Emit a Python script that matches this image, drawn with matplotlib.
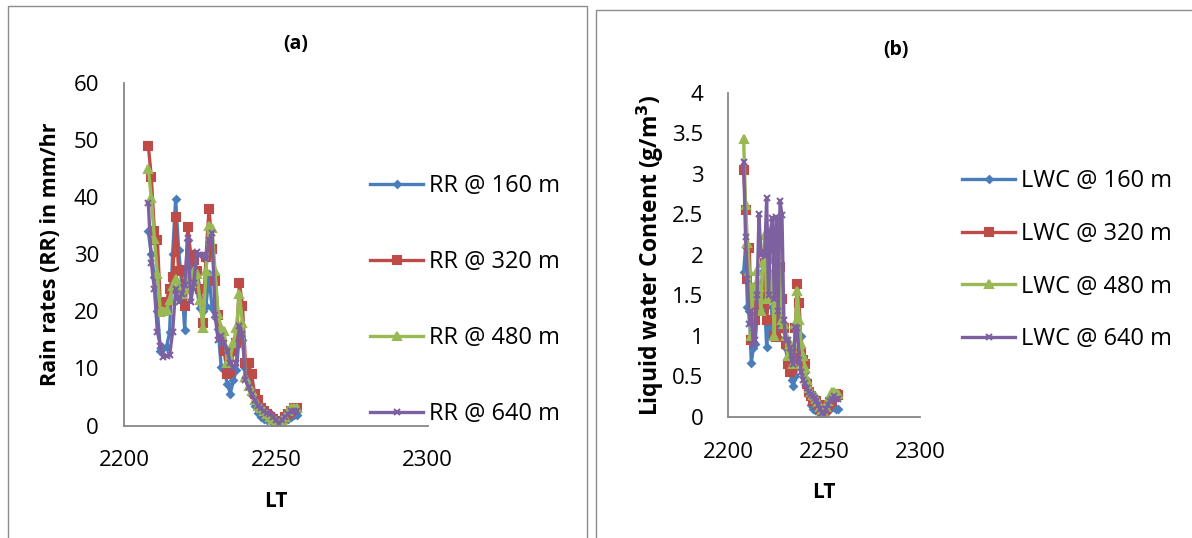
import matplotlib
matplotlib.use("Agg")
import matplotlib.pyplot as plt
from matplotlib.patches import Rectangle

plt.rcParams['font.family'] = ['Open Sans', 'DejaVu Sans']

# Local time (HHMM) of each sample
lt = list(range(2208, 2258))

# Rain rate (mm/hr) at four heights
rr_160 = [34, 30, 26, 20, 13, 13.5, 13.8, 16.3, 30, 39.7, 30.7, 25, 16.7, 32.5, 28, 27.7,
          24, 20.5, 20, 21, 26.5, 20.5, 19, 16.9, 10.3, 9.7, 7.3, 5.6, 7.9, 9.7, 16, 15,
          10, 9, 6, 3.5, 2.2, 1.5, 1.2, 1, 1, 0.8, 0.5, 0.2, 0.6, 1, 1.2, 1.5, 1.8, 1.8]
rr_320 = [49, 43.5, 34, 32.5, 20.5, 21.5, 21.7, 24, 26, 36.5, 27, 27.2, 21, 34.7, 29.8, 29,
          27, 24, 18, 29.5, 38, 31, 25.4, 19.3, 15.5, 13, 9, 9.3, 13, 14.5, 25, 21,
          10.9, 10.9, 9, 5.5, 4.5, 3, 2.5, 2, 1.5, 1.2, 0.6, 0.2, 0.8, 1.5, 2, 2.6, 3, 3]
rr_480 = [45, 39.8, 32.7, 26.5, 19.9, 20, 20.2, 22, 24.5, 25.6, 24, 23, 24, 26.5, 25, 27,
          26.5, 22, 17, 27, 35, 34.6, 27, 19.5, 17, 16.6, 11, 12, 14.5, 17, 23, 18,
          8.5, 7, 6, 4.5, 3.5, 3, 2.5, 2, 1.5, 1.2, 0.8, 0.4, 1, 1.5, 2.5, 3, 3, 3]
rr_640 = [39, 28.5, 24, 16.4, 14, 12, 12.2, 12.3, 16.3, 24, 21.7, 23, 24.7, 32.8, 21.7, 25,
          30.4, 29.8, 29.8, 29.2, 32.5, 33.7, 19.3, 15, 15.7, 14.5, 13, 11, 10, 11, 17.5, 16,
          7.9, 6.7, 5.5, 4.5, 3.5, 3, 2.5, 2.2, 2, 1.5, 1, 0.3, 1, 1.5, 2, 2.5, 2.5, 2.5]

# Liquid water content (g/m^3) at four heights
lwc_160 = [1.79, 2.1, 1.36, 1.3, 0.66, 0.85, 0.9, 1.3, 1.5, 1.55, 1.8, 1.4, 0.86, 1.15, 1.1, 1.35,
           1.3, 1.05, 0.98, 1.4, 1.1, 1.1, 0.85, 0.65, 0.6, 0.45, 0.38, 0.5, 0.7, 1.0, 1.0, 0.7,
           0.55, 0.45, 0.25, 0.15, 0.1, 0.08, 0.08, 0.07, 0.06, 0.04, 0.02, 0.04, 0.08, 0.1, 0.12,
           0.12, 0.1, 0.1]
lwc_320 = [3.05, 2.55, 1.7, 2.08, 0.95, 1.55, 1.2, 1.35, 1.6, 1.4, 1.45, 1.9, 1.2, 1.5, 1.75, 1.6,
           1.0, 0.98, 1.7, 1.85, 1.45, 1.1, 0.9, 0.65, 0.55, 0.6, 0.75, 1.1, 1.64, 1.4, 0.8, 0.7,
           0.65, 0.4, 0.3, 0.25, 0.2, 0.2, 0.2, 0.15, 0.1, 0.05, 0.03, 0.1, 0.15, 0.18, 0.2,
           0.25, 0.28, 0.27]
lwc_480 = [3.43, 2.62, 2.15, 1.8, 1.0, 1.6, 1.5, 1.8, 1.6, 1.3, 1.9, 2.25, 1.45, 1.95, 1.75, 1.6,
           1.0, 2.0, 2.2, 1.55, 1.2, 1.15, 1.0, 0.75, 0.9, 0.85, 0.65, 1.15, 1.55, 1.2, 0.9, 0.75,
           0.6, 0.45, 0.35, 0.3, 0.27, 0.25, 0.22, 0.18, 0.12, 0.08, 0.05, 0.12, 0.2, 0.25, 0.3,
           0.3, 0.28, 0.28]
lwc_640 = [3.15, 2.22, 1.7, 1.15, 1.3, 0.89, 0.95, 1.5, 2.51, 2.0, 2.05, 1.98, 2.7, 1.5, 2.3, 2.45,
           1.45, 2.47, 1.3, 2.66, 2.49, 1.2, 0.95, 0.95, 0.85, 0.7, 0.65, 1.11, 1.1, 0.7, 0.55, 0.45,
           0.42, 0.35, 0.3, 0.28, 0.25, 0.23, 0.2, 0.15, 0.1, 0.05, 0.02, 0.1, 0.15, 0.2, 0.22,
           0.25, 0.22, 0.22]

heights = ['160', '320', '480', '640']
x_ticks = [2200, 2250, 2300]
rr_ticks = [0, 10, 20, 30, 40, 50, 60]
lwc_ticks = [0, 0.5, 1, 1.5, 2, 2.5, 3, 3.5, 4]
lwc_tick_labels = ['0', '0.5', '1', '1.5', '2', '2.5', '3', '3.5', '4']

colors = ['#4A7EBB', '#BE4B48', '#98B954', '#7D60A0']
markers = ['D', 's', '^', 'x']
msizes = [3.5, 5.5, 5.5, 5]

W, H = 1192, 538
fig = plt.figure(figsize=(W / 100, H / 100), dpi=100)

# outer frames around each panel
fig.patches.append(Rectangle((8 / W, -0.05), 579 / W, 1.05 - 6 / H, transform=fig.transFigure,
                             fill=False, edgecolor='#8C8C8C', lw=1.0))
fig.patches.append(Rectangle((596 / W, -0.05), 1.0, 1.05 - 10 / H, transform=fig.transFigure,
                             fill=False, edgecolor='#8C8C8C', lw=1.0))


def style_axes(ax):
    for side in ('top', 'right'):
        ax.spines[side].set_visible(False)
    for side in ('left', 'bottom'):
        ax.spines[side].set_color('#868686')
        ax.spines[side].set_linewidth(1.3)
    ax.tick_params(length=0, labelsize=16, pad=18, colors='black')
    ax.set_xticks(x_ticks)
    ax.set_xlim(2200, 2300)


# ---- panel (a): rain rate ----
ax1 = fig.add_axes([124 / W, 1 - 425.5 / H, 303.7 / W, 342.5 / H])
rr_series = [rr_160, rr_320, rr_480, rr_640]
for vals, h, c, m, ms in zip(rr_series, heights, colors, markers, msizes):
    ax1.plot(lt, vals, color=c, marker=m, markersize=ms, lw=2.4, mew=1.5,
             label=f'RR @ {h} m')
style_axes(ax1)
ax1.set_ylim(0, 60)
ax1.set_yticks(rr_ticks)
ax1.set_ylabel('Rain rates (RR) in mm/hr', fontsize=15.5, fontweight='bold', labelpad=9)
ax1.set_xlabel('LT', fontsize=15, fontweight='bold', labelpad=14)
fig.text(296 / W, 1 - 44 / H, '(a)', fontsize=14, fontweight='bold', ha='center', va='center')
ax1.legend(loc='upper left', bbox_to_anchor=(370 / W, 1 - 174 / H),
           bbox_transform=fig.transFigure, frameon=False, fontsize=17,
           handlelength=2.25, handletextpad=0.25, labelspacing=2.2, borderpad=0,
           borderaxespad=0)

# ---- panel (b): liquid water content ----
ax2 = fig.add_axes([728.3 / W, 1 - 416.7 / H, 191.7 / W, 323.7 / H])
lwc_series = [lwc_160, lwc_320, lwc_480, lwc_640]
for vals, h, c, m, ms in zip(lwc_series, heights, colors, markers, msizes):
    ax2.plot(lt, vals, color=c, marker=m, markersize=ms, lw=2.4, mew=1.5,
             label=f'LWC @ {h} m')
style_axes(ax2)
ax2.set_ylim(0, 4)
ax2.set_yticks(lwc_ticks)
ax2.set_yticklabels(lwc_tick_labels)
ax2.set_ylabel('Liquid water Content (g/m$^\\mathbf{3}$)', fontsize=16.5, fontweight='bold',
               labelpad=4)
ax2.set_xlabel('LT', fontsize=15, fontweight='bold', labelpad=14)
fig.text(896 / W, 1 - 50 / H, '(b)', fontsize=14, fontweight='bold', ha='center', va='center')
ax2.legend(loc='upper left', bbox_to_anchor=(962 / W, 1 - 169 / H),
           bbox_transform=fig.transFigure, frameon=False, fontsize=17,
           handlelength=2.25, handletextpad=0.25, labelspacing=1.22, borderpad=0,
           borderaxespad=0)

fig.savefig('out.png', dpi=100, facecolor='white')
